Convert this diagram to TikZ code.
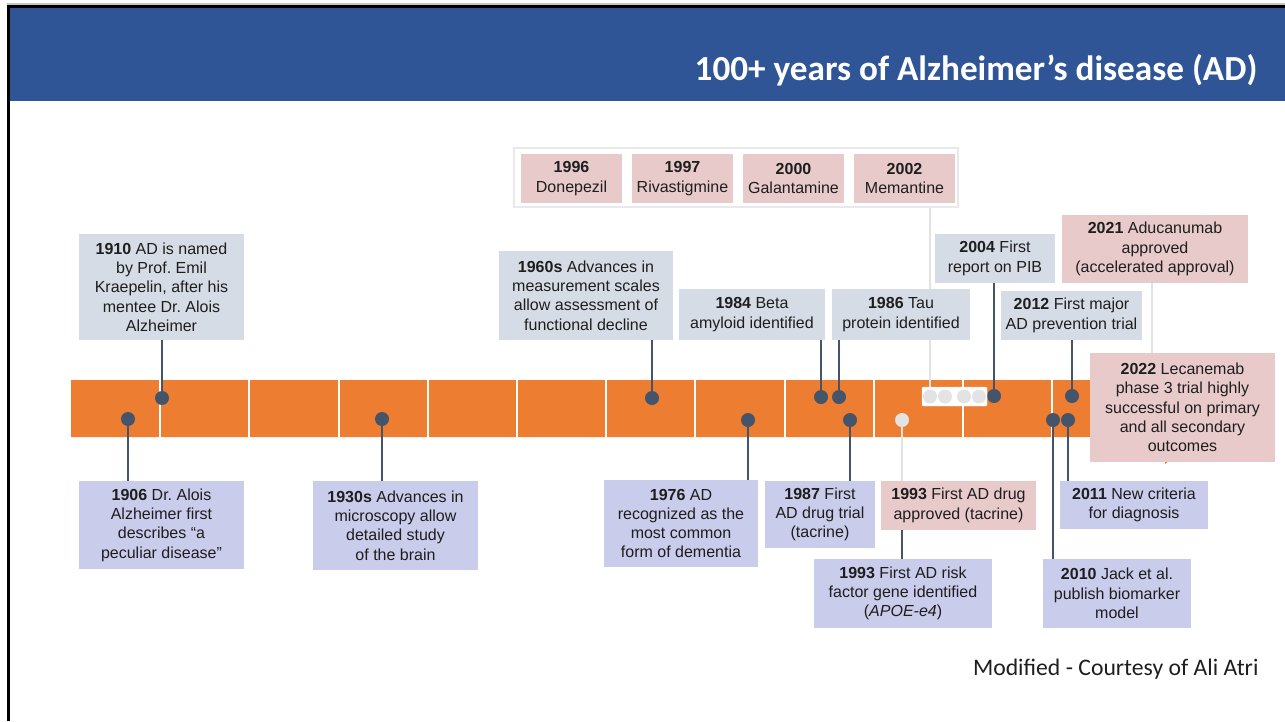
\documentclass[tikz,border=0pt]{standalone}
\usepackage{fontspec}
\setmainfont{Liberation Sans}
\newfontfamily\calib{Carlito}
\frenchspacing
\pgfdeclarelayer{back}
\pgfdeclarelayer{mid}
\pgfsetlayers{back,mid,main}

\definecolor{hdrblue}{HTML}{2F5597}
\definecolor{barorange}{HTML}{ED7D31}
\definecolor{slate}{HTML}{44546A}
\definecolor{greybox}{HTML}{D6DCE5}
\definecolor{lavbox}{HTML}{C9CCEA}
\definecolor{pinkbox}{HTML}{E8CACB}
\definecolor{pale}{HTML}{E3E3E3}
\definecolor{ink}{HTML}{1E1E1E}

\tikzset{
  evt/.style={inner sep=0pt, align=center, text=ink,
              font=\fontsize{16}{19.3}\selectfont},
  upbox/.style={evt, fill=greybox},
  lowbox/.style={evt, fill=lavbox},
  drugbox/.style={evt, fill=pinkbox},
  dot/.style={circle, fill=slate, minimum size=14pt, inner sep=0pt},
  palemark/.style={circle, fill=pale, minimum size=14pt, inner sep=0pt},
  link/.style={draw=slate, line width=2pt},
  palelink/.style={draw=pale, line width=2pt},
}

\begin{document}
\begin{tikzpicture}[x=1pt, y=-1pt]
\useasboundingbox (0,0) rectangle (1285,721);

% frame and header band
\fill[gray!45] (7,3) rectangle (1285,5);
\fill[black] (7,5) rectangle (1285,8);
\fill[black] (7,5) rectangle (10,721);
\fill[hdrblue] (10,8) rectangle (1285,101);
\node[anchor=east, text=white, font=\calib\bfseries\fontsize{35.2}{40}\selectfont]
  (title) at (1261,70) {100+ years of Alzheimer’s disease (AD)};

% timeline arrow
\begin{pgfonlayer}{back}
\fill[barorange] (71,380) -- (1165,380) -- (1165,353) -- (1235,408.5)
  -- (1165,464) -- (1165,437) -- (71,437) -- cycle;
\foreach \k in {1,...,11}
  \draw[white, line width=2pt] ({71+89.2*\k},380) -- ({71+89.2*\k},437);
\end{pgfonlayer}

% events above the line
\node[upbox, minimum width=165pt, minimum height=106pt] (b1910) at (161.5,287)
  {\textbf{1910} AD is named\\by Prof. Emil\\Kraepelin, after his\\mentee Dr. Alois\\Alzheimer};
\node[upbox, minimum width=174pt, minimum height=89pt] (b1960) at (586,295.5)
  {\textbf{1960s} Advances in\\measurement scales\\allow assessment of\\functional decline};
\node[upbox, minimum width=146pt, minimum height=51pt] (b1984) at (752,314.5)
  {\textbf{1984} Beta\\amyloid identified};
\node[upbox, minimum width=138pt, minimum height=51pt] (b1986) at (901,314.5)
  {\textbf{1986} Tau\\protein identified};
\node[upbox, minimum width=120pt, minimum height=49pt] (b2004) at (995,258.5)
  {\textbf{2004} First\\report on PIB};
\node[upbox, minimum width=141pt, minimum height=49pt] (b2012) at (1071.5,315.5)
  {\textbf{2012} First major\\AD prevention trial};
\node[drugbox, minimum width=186pt, minimum height=68pt] (b2021) at (1155,249)
  {\textbf{2021} Aducanumab\\approved\\(accelerated approval)};
\node[drugbox, minimum width=185pt, minimum height=109pt] (b2022) at (1182.5,407.5)
  {\textbf{2022} Lecanemab\\phase 3 trial highly\\successful on primary\\and all secondary\\outcomes};

% approved drugs group
\node[draw=pale!80, line width=1.5pt, fill=white, minimum width=444pt, minimum height=59pt,
  inner sep=0pt] (drugs) at (736,177.5) {};
\node[drugbox, minimum width=101pt, minimum height=49pt] (g1996) at (571.5,178.5)
  {\textbf{1996}\\Donepezil};
\node[drugbox, minimum width=101pt, minimum height=49pt] (g1997) at (682.5,178.5)
  {\textbf{1997}\\Rivastigmine};
\node[drugbox, minimum width=101pt, minimum height=49pt] (g2000) at (793.5,178.5)
  {\textbf{2000}\\Galantamine};
\node[drugbox, minimum width=101pt, minimum height=49pt] (g2002) at (904.5,178.5)
  {\textbf{2002}\\Memantine};

% events below the line
\node[lowbox, minimum width=165pt, minimum height=88pt] (b1906) at (161.5,525)
  {\textbf{1906} Dr. Alois\\Alzheimer first\\describes “a\\peculiar disease”};
\node[lowbox, minimum width=165pt, minimum height=89pt] (b1930) at (395.5,525.5)
  {\textbf{1930s} Advances in\\microscopy allow\\detailed study\\of the brain};
\node[lowbox, minimum width=154pt, minimum height=87pt] (b1976) at (681,523.5)
  {\textbf{1976} AD\\recognized as the\\most common\\form of dementia};
\node[lowbox, minimum width=110pt, minimum height=67pt] (b1987) at (820,514.5)
  {\textbf{1987} First\\AD drug trial\\(tacrine)};
\node[drugbox, minimum width=155pt, minimum height=49pt] (b1993a) at (958.5,505.5)
  {\textbf{1993} First AD drug\\approved (tacrine)};
\node[lowbox, minimum width=178pt, minimum height=69pt] (b1993b) at (903,593.5)
  {\textbf{1993} First AD risk\\factor gene identified\\(\textit{APOE-e4})};
\node[lowbox, minimum width=148pt, minimum height=48pt] (b2011) at (1134,505)
  {\textbf{2011} New criteria\\for diagnosis};
\node[lowbox, minimum width=148pt, minimum height=69pt] (b2010) at (1117,593.5)
  {\textbf{2010} Jack et al.\\publish biomarker\\model};

% markers on the line
\node[dot] (d1906) at (128,419) {};
\node[dot] (d1910) at (162,398) {};
\node[dot] (d1930) at (382,419) {};
\node[dot] (d1960) at (652,398) {};
\node[dot] (d1976) at (748,420) {};
\node[dot] (d1984) at (821,397) {};
\node[dot] (d1986) at (839,397) {};
\node[dot] (d1987) at (850,420) {};
\node[palemark] (d1993) at (902,420) {};
\node[dot] (d2004) at (994,396) {};
\node[dot] (d2010) at (1053,420) {};
\node[dot] (d2011) at (1068,420) {};
\node[dot] (d2012) at (1072,396) {};

% grouped drug approvals marker
\node[draw=pale!70, fill=white, rounded corners=1pt, minimum width=65pt,
  minimum height=19pt, inner sep=0pt] (mini) at (954.5,396.5) {};
\node[palemark] (m1) at (930,396.5) {};
\node[palemark] (m2) at (945,396.5) {};
\node[palemark] (m3) at (964,396.5) {};
\node[palemark] (m4) at (979,396.5) {};

% credit line
\node[anchor=east, text=ink, font=\calib\fontsize{23.7}{28}\selectfont]
  (credit) at (1262,669) {Modified - Courtesy of Ali Atri};

% connectors
\begin{pgfonlayer}{mid}
\draw[link] (d1906.center) -- (d1906 |- b1906.north);
\draw[link] (d1910.center) -- (d1910 |- b1910.south);
\draw[link] (d1930.center) -- (d1930 |- b1930.north);
\draw[link] (d1960.center) -- (d1960 |- b1960.south);
\draw[link] (d1976.center) -- (d1976 |- b1976.north);
\draw[link] (d1984.center) -- (d1984 |- b1984.south);
\draw[link] (d1986.center) -- (d1986 |- b1986.south);
\draw[link] (d1987.center) -- (d1987 |- b1987.north);
\draw[palelink] (d1993.center) -- (d1993 |- b1993a.north);
\draw[link] (d1993 |- b1993a.south) -- (d1993 |- b1993b.north);
\draw[link] (d2004.center) -- (d2004 |- b2004.south);
\draw[link] (d2010.center) -- (d2010 |- b2010.north);
\draw[link] (d2011.center) -- (d2011 |- b2011.north);
\draw[link] (d2012.center) -- (d2012 |- b2012.south);
\draw[palelink] (m1 |- drugs.south) -- (m1 |- mini.north);
\draw[palelink] (1152,283) coordinate (a2021) (a2021 |- b2021.south) -- (a2021 |- b2022.north);
\end{pgfonlayer}
\end{tikzpicture}
\end{document}
